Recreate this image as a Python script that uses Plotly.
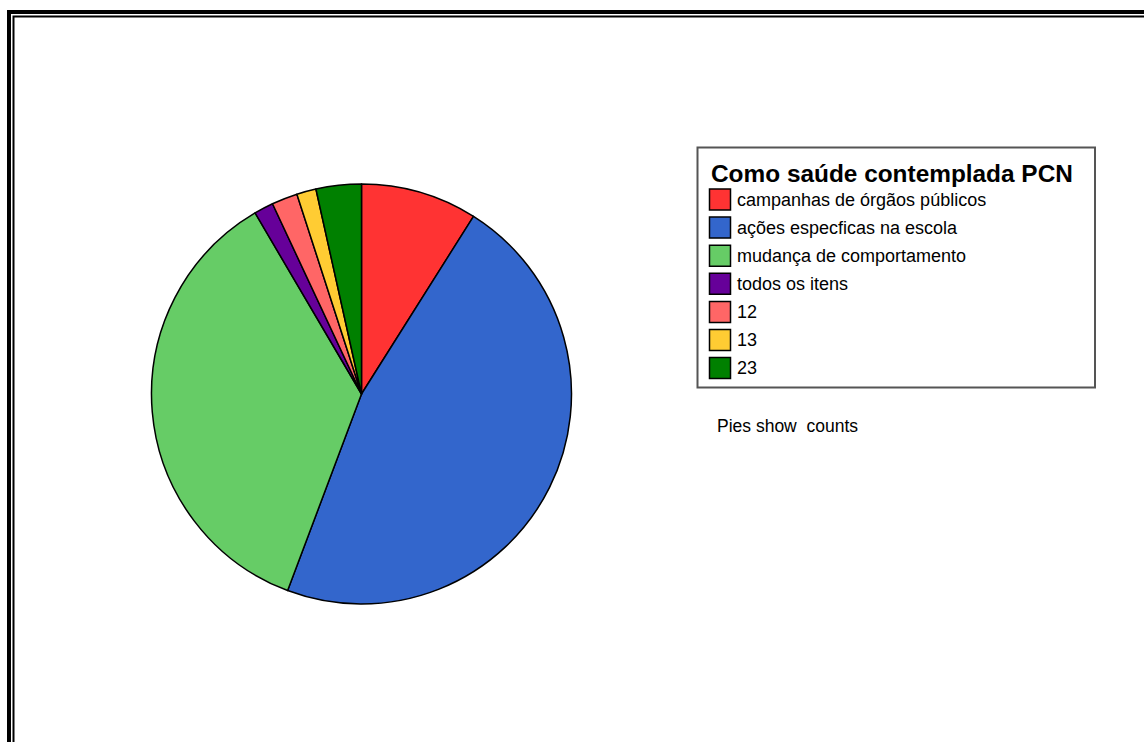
import plotly.graph_objects as go

# Category labels, counts and slice colours
categories = [
    "campanhas de órgãos públicos",
    "ações especficas na escola",
    "mudança de comportamento",
    "todos os itens",
    "12",
    "13",
    "23",
]
counts = [18, 94, 72, 3, 4, 3, 7]
colors = ["#ff3333", "#3366cc", "#66cc66", "#660099", "#ff6666", "#ffcc33", "#008000"]

legend_title = "Como saúde contemplada PCN"
footnote = "Pies show  counts"

W, H = 1144, 742


def px(x):
    return x / W


def py(y):
    return 1 - y / H


fig = go.Figure()

# Pie centred at (361.5, 394) with radius 210 px
fig.add_trace(go.Pie(
    labels=categories,
    values=counts,
    sort=False,
    direction="clockwise",
    rotation=0,
    marker=dict(colors=colors, line=dict(color="black", width=1.5)),
    textinfo="none",
    hoverinfo="label+value",
    showlegend=False,
    domain=dict(x=[px(151.5), px(571.5)], y=[py(604), py(184)]),
))

shapes = []
annotations = []

# Double frame around the chart area
shapes.append(dict(type="rect", xref="paper", yref="paper",
                   x0=px(9), y0=py(12), x1=px(1160), y1=py(760),
                   line=dict(color="black", width=4), fillcolor="rgba(0,0,0,0)"))
shapes.append(dict(type="rect", xref="paper", yref="paper",
                   x0=px(13.5), y0=py(16.5), x1=px(1160), y1=py(760),
                   line=dict(color="black", width=2), fillcolor="rgba(0,0,0,0)"))

# Legend box
shapes.append(dict(type="rect", xref="paper", yref="paper",
                   x0=px(697.5), y0=py(147.5), x1=px(1095), y1=py(387.5),
                   line=dict(color="#555555", width=2), fillcolor="white"))

annotations.append(dict(
    text="<b>" + legend_title + "</b>", xref="paper", yref="paper",
    x=px(709), y=py(173), xanchor="left", yanchor="middle", showarrow=False,
    font=dict(family="Liberation Sans, Arial", size=24.4, color="black"),
))

row_top = 189.0
row_step = 28.1
sw = 21
for i, (lab, col) in enumerate(zip(categories, colors)):
    top = row_top + i * row_step
    shapes.append(dict(type="rect", xref="paper", yref="paper",
                       x0=px(709.5), y0=py(top), x1=px(709.5 + sw), y1=py(top + sw),
                       line=dict(color="black", width=1.5), fillcolor=col))
    annotations.append(dict(
        text=lab, xref="paper", yref="paper",
        x=px(735), y=py(top + sw / 2), xanchor="left", yanchor="middle",
        showarrow=False,
        font=dict(family="Liberation Sans, Arial", size=18, color="black"),
    ))

annotations.append(dict(
    text=footnote, xref="paper", yref="paper",
    x=px(715), y=py(426), xanchor="left", yanchor="middle", showarrow=False,
    font=dict(family="Liberation Sans, Arial", size=17.5, color="black"),
))

fig.update_layout(
    width=W, height=H, autosize=False,
    margin=dict(l=0, r=0, t=0, b=0),
    paper_bgcolor="white", plot_bgcolor="white",
    shapes=shapes, annotations=annotations,
    showlegend=False,
)

fig.write_html("out.html")
